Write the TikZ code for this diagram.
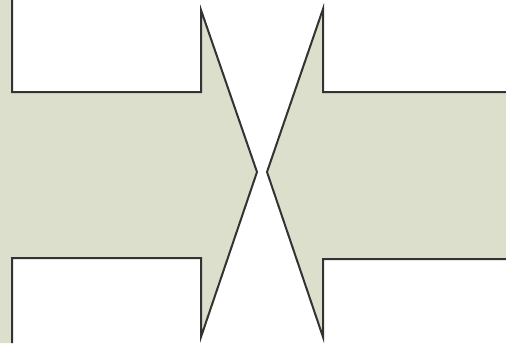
\documentclass[tikz,border=0pt]{standalone}
\usepackage{tikz}
\usepackage{xcolor}
\definecolor{shaftbeige}{RGB}{220,223,203}

\begin{document}
\begin{tikzpicture}[x=1pt, y=-1pt,
  shaft/.style={fill=shaftbeige, draw=none},
  outline/.style={line width=2pt, draw=black!80, line join=miter}
]
\useasboundingbox (0,0) rectangle (506,343);
% left arrow
\fill[shaft] (0,0) -- (12,0) -- (12,92) -- (201,92) -- (201,10) -- (257,172)
  -- (201,337) -- (201,258) -- (12,258) -- (12,343) -- (0,343) -- cycle;
\draw[outline] (12,0) -- (12,92) -- (201,92) -- (201,10) -- (257,172)
  -- (201,337) -- (201,258) -- (12,258) -- (12,343);
% right arrow
\fill[shaft] (506,92) -- (323,92) -- (323,9) -- (267,172) -- (323,337)
  -- (323,259) -- (506,259) -- cycle;
\draw[outline] (506,92) -- (323,92) -- (323,9) -- (267,172) -- (323,337)
  -- (323,259) -- (506,259);
\end{tikzpicture}
\end{document}
